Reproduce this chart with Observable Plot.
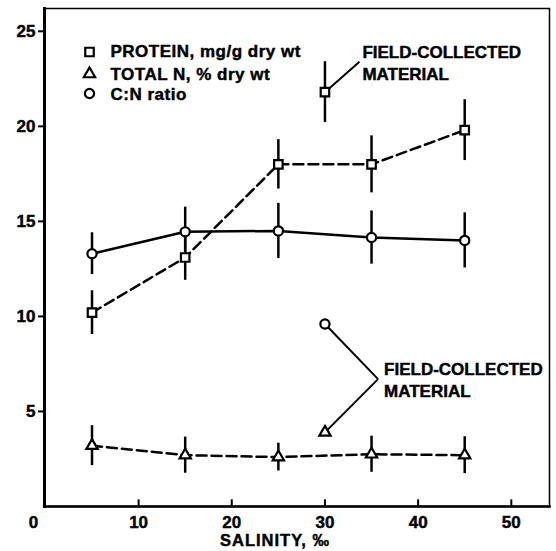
<!DOCTYPE html>
<html><head><meta charset="utf-8">
<script src="https://cdn.jsdelivr.net/npm/d3@7"></script>
<script src="https://cdn.jsdelivr.net/npm/@observablehq/plot@0.6"></script>
<style>
body{margin:0;background:#fff}
svg{display:block}
.legtxt text{letter-spacing:0.5px}
.xtitle text{letter-spacing:1px}
.heavy text{stroke:black;stroke-width:0.45px;paint-order:stroke}
</style>
</head><body><div id="chart"></div>
<script>
// ---- data ----
const salinity = [5, 15, 25, 35, 45];
const protein = [10.2, 13.1, 18.0, 18.0, 19.8];
const proteinErr = [1.15, 1.2, 1.3, 1.5, 1.6];
const totalN = [3.2, 2.7, 2.6, 2.75, 2.7];
const totalNErr = [1.05, 0.95, 0.73, 0.95, 0.97];
const cnRatio = [13.3, 14.45, 14.5, 14.15, 14.0];
const cnErr = [1.1, 1.3, 1.45, 1.4, 1.45];
const fieldSalinity = [30];
const fieldProtein = [21.8];
const fieldProteinErr = [1.6];
const fieldCN = [9.6];
const fieldTotalN = [3.9];
const xTicks = [0, 10, 20, 30, 40, 50];
const yTicks = [5, 10, 15, 20, 25];
const seriesNames = ["PROTEIN, mg/g dry wt", "TOTAL N, % dry wt", "C:N ratio"];
const seriesSymbols = ["square", "triangle", "circle"];
const calloutLabel = ["FIELD-COLLECTED\nMATERIAL"];
const xTitle = ["SALINITY, \u2030"];
// callout anchor points (data units)
const calloutTopX = [33.7], calloutTopY = [23.4];
const bracketX = [35.7], bracketY = [6.7];

const rows = (ys, es) => salinity.map((x, i) => ({x, y: ys[i], e: es[i]}));
const proteinRows = rows(protein, proteinErr);
const nRows = rows(totalN, totalNErr);
const cnRows = rows(cnRatio, cnErr);
const fieldRows = fieldSalinity.map((x, i) => ({x, p: fieldProtein[i], pe: fieldProteinErr[i], cn: fieldCN[i], n: fieldTotalN[i]}));

const FONT = 17;
const dash = "10,5";
const mk = {fill: "white", stroke: "black", strokeWidth: 2.2};
const rOf = s => s === "triangle" ? 4.2 : s === "square" ? 4.8 : 4.6;

const marks = [
  Plot.frame({strokeWidth: 1.5}),
  Plot.frame({anchor: "left", strokeWidth: 3}),
  Plot.frame({anchor: "bottom", strokeWidth: 2.5}),
  Plot.axisY(yTicks, {anchor: "left", tickSize: 6, tickPadding: 3, strokeWidth: 2, fontSize: FONT, className: "heavy"}),
  Plot.axisX(xTicks.filter(d => d > 0), {anchor: "bottom", tickSize: 0, tickPadding: 9, fontSize: FONT, className: "heavy"}),
  Plot.axisX(xTicks.filter(d => d === 0), {anchor: "bottom", tickSize: 0, tickPadding: 9, fontSize: FONT, dx: -12, className: "heavy"}),
  Plot.ruleX(xTicks.filter(d => d > 0), {x: d => d, y1: 0, y2: 0.35, strokeWidth: 2}),
  Plot.text(xTitle, {frameAnchor: "bottom", text: d => d, dy: 34, dx: -22, fontSize: 16.5, lineAnchor: "middle", className: "xtitle heavy"}),
  // series lines
  Plot.line(proteinRows, {x: "x", y: "y", strokeWidth: 2.5, strokeDasharray: dash}),
  Plot.line(nRows, {x: "x", y: "y", strokeWidth: 2.5, strokeDasharray: dash}),
  Plot.line(cnRows, {x: "x", y: "y", strokeWidth: 2.5}),
  // error bars
  ...[proteinRows, nRows, cnRows].map(r => Plot.ruleX(r, {x: "x", y1: d => d.y - d.e, y2: d => d.y + d.e, strokeWidth: 2.5})),
  Plot.ruleX(fieldRows, {x: "x", y1: d => d.p - d.pe, y2: d => d.p + d.pe, strokeWidth: 2.5}),
  // callout connectors
  Plot.link(fieldRows, {x1: "x", y1: "p", x2: () => calloutTopX[0], y2: () => calloutTopY[0], strokeWidth: 2}),
  Plot.link(fieldRows, {x1: "x", y1: "cn", x2: () => bracketX[0], y2: () => bracketY[0], strokeWidth: 2}),
  Plot.link(fieldRows, {x1: "x", y1: "n", x2: () => bracketX[0], y2: () => bracketY[0], strokeWidth: 2}),
  // markers
  Plot.dot(proteinRows, {x: "x", y: "y", symbol: "square", r: rOf("square"), ...mk}),
  Plot.dot(nRows, {x: "x", y: "y", symbol: "triangle", r: rOf("triangle"), ...mk}),
  Plot.dot(cnRows, {x: "x", y: "y", symbol: "circle", r: rOf("circle"), ...mk}),
  Plot.dot(fieldRows, {x: "x", y: "p", symbol: "square", r: rOf("square"), ...mk}),
  Plot.dot(fieldRows, {x: "x", y: "cn", symbol: "circle", r: rOf("circle"), ...mk}),
  Plot.dot(fieldRows, {x: "x", y: "n", symbol: "triangle", r: rOf("triangle"), ...mk}),
  // callout labels
  Plot.text(calloutLabel, {x: () => calloutTopX[0], y: () => calloutTopY[0], text: d => d, dx: 3, textAnchor: "start", lineAnchor: "middle", lineHeight: 1.3, fontSize: 17, className: "heavy"}),
  Plot.text(calloutLabel, {x: () => bracketX[0], y: () => bracketY[0], text: d => d, dx: 6, textAnchor: "start", lineAnchor: "middle", lineHeight: 1.3, fontSize: 17, className: "heavy"}),
  // legend
  ...seriesNames.flatMap((name, i) => [
    Plot.dot([name], {frameAnchor: "top-left", dx: 45, dy: [43.5, 65.5, 85][i], symbol: () => seriesSymbols[i], r: rOf(seriesSymbols[i]), ...mk}),
    Plot.text([name], {frameAnchor: "top-left", dx: 66, dy: [43.5, 66, 86][i], text: d => d, textAnchor: "start", lineAnchor: "middle", fontSize: 17, className: "legtxt heavy"})
  ])
];

const chart = Plot.plot({
  width: 556,
  height: 551,
  marginLeft: 44,
  marginRight: 7,
  marginTop: 8,
  marginBottom: 45,
  style: {fontFamily: "'Liberation Sans', Arial, sans-serif", fontWeight: "bold", fontSize: "17px", color: "black", background: "white"},
  x: {domain: [-0.1, 54.1], label: null, axis: null},
  y: {domain: [0, 26.2], label: null, axis: null},
  symbol: {type: "identity"},
  marks
});
document.getElementById("chart").append(chart);
</script>
</body></html>
